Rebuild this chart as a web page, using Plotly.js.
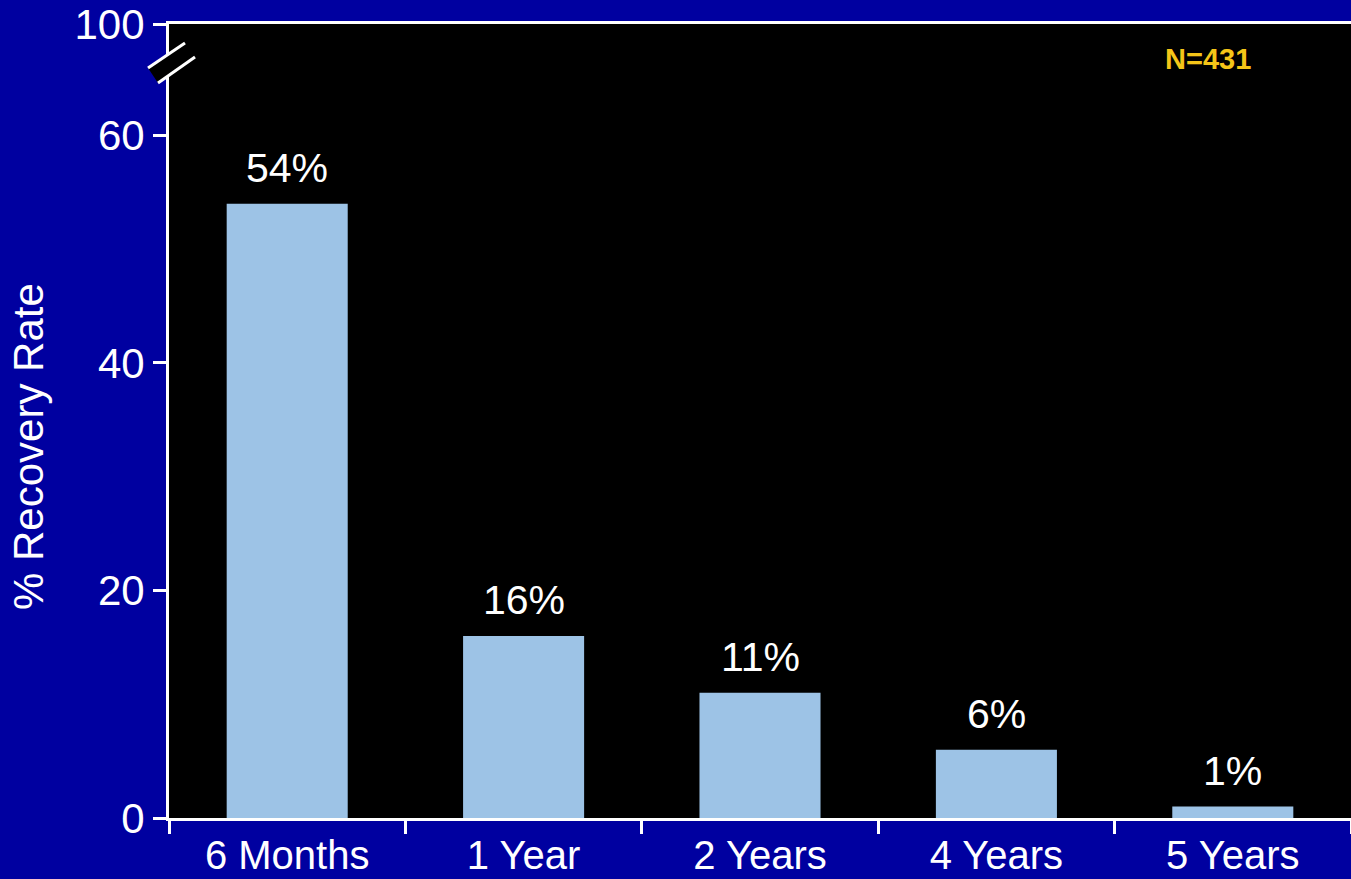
<!DOCTYPE html>
<html>
<head>
<meta charset="utf-8">
<script src="https://cdn.plot.ly/plotly-3.0.1.min.js"></script>
<style>html,body{margin:0;padding:0;background:#0000A0;}#chart{width:1351px;height:879px;}</style>
</head>
<body>
<div id="chart"></div>
<script>
// Data
const categories = ['6 Months', '1 Year', '2 Years', '4 Years', '5 Years'];
const recoveryRate = [54, 16, 11, 6, 1];
const valueLabels = ['54%', '16%', '11%', '6%', '1%'];
const yTickVals = [0, 20, 40, 60, 69.8];
const yTickText = ['0', '20', '40', '60', '100'];
const sampleNote = 'N=431';

const FONT = 'Liberation Sans, Arial, Helvetica, sans-serif';
const W = 1351, H = 879, ML = 169, MR = 0, MT = 24, MB = 61;
const PW = W - ML - MR, PH = H - MT - MB;
// pixel -> paper helpers for decorative axis-break shapes
const px = x => (x - ML) / PW;
const py = y => (H - MB - y) / PH;

const trace = {
  type: 'bar',
  x: categories,
  y: recoveryRate,
  marker: {color: '#9DC3E6', line: {width: 0}},
  hoverinfo: 'x+y'
};

const annotations = categories.map((c, i) => ({
  x: c, y: recoveryRate[i], xref: 'x', yref: 'y',
  text: valueLabels[i], showarrow: false, yanchor: 'middle', yshift: 36,
  font: {family: FONT, size: 41, color: '#FFFFFF'}
}));
annotations.push({
  x: px(28), y: py(447), xref: 'paper', yref: 'paper',
  text: '% Recovery Rate', textangle: -90, showarrow: false,
  xanchor: 'center', yanchor: 'middle',
  font: {family: FONT, size: 42, color: '#FFFFFF'}
});
annotations.push({
  x: px(1208), y: py(59), xref: 'paper', yref: 'paper',
  text: '<b>' + sampleNote + '</b>', showarrow: false,
  xanchor: 'center', yanchor: 'middle',
  font: {family: FONT, size: 29, color: '#F5C518'}
});

const shapes = [
  {type: 'path', xref: 'paper', yref: 'paper', layer: 'above',
   path: `M ${px(148)},${py(68)} L ${px(185)},${py(43)} L ${px(195)},${py(57)} L ${px(158)},${py(83)} Z`,
   fillcolor: '#000000', line: {width: 0}},
  {type: 'line', xref: 'paper', yref: 'paper', layer: 'above',
   x0: px(148), y0: py(68), x1: px(185), y1: py(43), line: {color: '#FFFFFF', width: 3}},
  {type: 'line', xref: 'paper', yref: 'paper', layer: 'above',
   x0: px(158), y0: py(83), x1: px(195), y1: py(57), line: {color: '#FFFFFF', width: 3}}
];

const layout = {
  width: W, height: H,
  margin: {l: ML, r: MR, t: MT, b: MB, pad: 0},
  paper_bgcolor: '#0000A0',
  plot_bgcolor: '#000000',
  showlegend: false,
  bargap: 0.488,
  font: {family: FONT, size: 42, color: '#FFFFFF'},
  xaxis: {
    type: 'category', range: [-0.5, 4.5], fixedrange: true,
    showline: true, linecolor: '#FFFFFF', linewidth: 3, mirror: true,
    ticks: 'outside', tickson: 'boundaries', ticklen: 13, tickwidth: 3, tickcolor: '#FFFFFF',
    showgrid: false, zeroline: false,
    tickfont: {family: FONT, size: 40, color: '#FFFFFF'}
  },
  yaxis: {
    range: [0, 69.8], fixedrange: true,
    tickvals: yTickVals, ticktext: yTickText,
    showline: true, linecolor: '#FFFFFF', linewidth: 3,
    ticks: 'outside', ticklen: 13, tickwidth: 3, tickcolor: '#FFFFFF',
    showgrid: false, zeroline: false,
    tickfont: {family: FONT, size: 42, color: '#FFFFFF'}
  },
  annotations: annotations,
  shapes: shapes
};

Plotly.newPlot('chart', [trace], layout, {displayModeBar: false, staticPlot: true});
</script>
</body>
</html>
